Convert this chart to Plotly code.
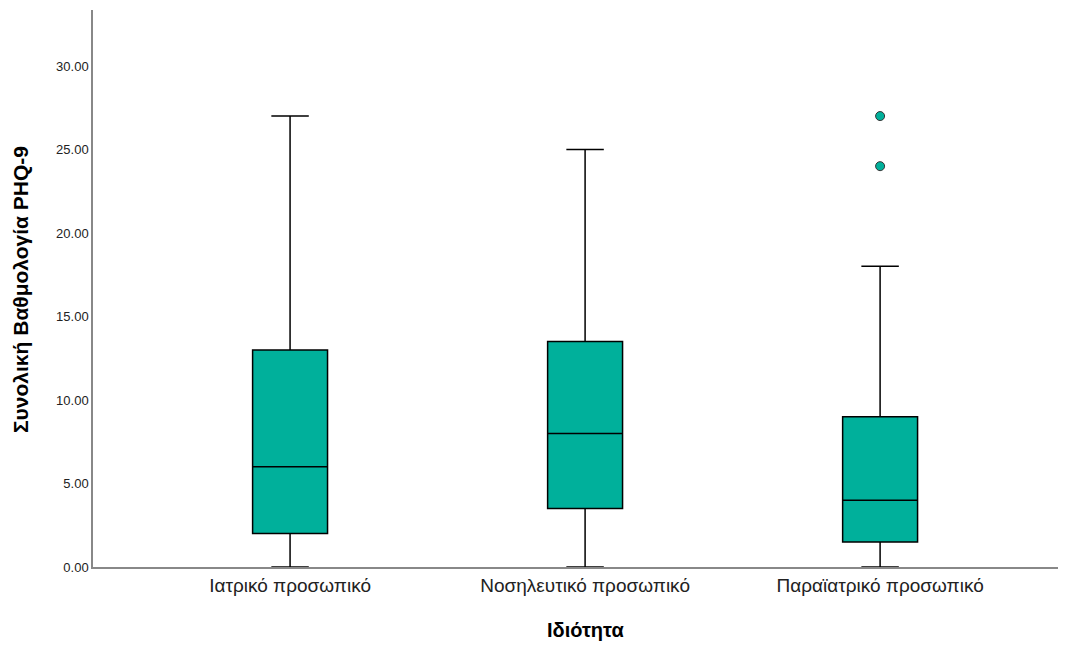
import plotly.graph_objects as go

categories = ["Ιατρικό προσωπικό", "Νοσηλευτικό προσωπικό", "Παραϊατρικό προσωπικό"]
q1 = [2.0, 3.5, 1.5]
median = [6.0, 8.0, 4.0]
q3 = [13.0, 13.5, 9.0]
lowerfence = [0.0, 0.0, 0.0]
upperfence = [27.0, 25.0, 18.0]
outlier_cat = ["Παραϊατρικό προσωπικό", "Παραϊατρικό προσωπικό"]
outlier_val = [27.0, 24.0]
y_ticks = [0, 5, 10, 15, 20, 25, 30]
y_ticklabels = ["0.00", "5.00", "10.00", "15.00", "20.00", "25.00", "30.00"]

teal = "#00B09B"

fig = go.Figure()
fig.add_trace(go.Box(
    x=categories, q1=q1, median=median, q3=q3,
    lowerfence=lowerfence, upperfence=upperfence,
    fillcolor=teal, line=dict(color="black", width=1.5),
    width=0.254, whiskerwidth=0.5, boxpoints=False, showlegend=False,
    hoverinfo="skip",
))
fig.add_trace(go.Scatter(
    x=outlier_cat, y=outlier_val, mode="markers",
    marker=dict(color=teal, size=9, line=dict(color="#333333", width=1)),
    showlegend=False,
))

fig.update_layout(
    width=1063, height=638,
    margin=dict(l=85, r=13, t=2, b=79),
    plot_bgcolor="white", paper_bgcolor="white",
    font=dict(family="Arial, Liberation Sans, sans-serif", color="#222222"),
    xaxis=dict(
        type="category", categoryorder="array", categoryarray=categories,
        range=[-0.668, 2.603], showgrid=False, zeroline=False,
        showline=True, linecolor="#888888", linewidth=1.5, ticks="",
        tickfont=dict(size=19, color="#222222"), automargin=False,
    ),
    yaxis=dict(
        range=[0, 33.35], tickvals=y_ticks, ticktext=y_ticklabels,
        showgrid=False, zeroline=False, showline=True, linecolor="#888888",
        linewidth=1.5, ticks="", tickfont=dict(size=13, color="#222222"),
        automargin=False,
    ),
    annotations=[
        dict(text="<b>Ιδιότητα</b>", xref="paper", yref="paper",
             x=(585 - 93) / (1058 - 93), y=(567 - 630) / 557,
             xanchor="center", yanchor="middle", showarrow=False,
             font=dict(size=20, color="black")),
        dict(text="<b>Συνολική Βαθμολογία PHQ-9</b>", xref="paper", yref="paper",
             x=(20 - 93) / (1058 - 93), y=(567 - 290) / 557, textangle=-90,
             xanchor="center", yanchor="middle", showarrow=False,
             font=dict(size=21, color="black")),
    ],
)

fig.write_html("out.html")
